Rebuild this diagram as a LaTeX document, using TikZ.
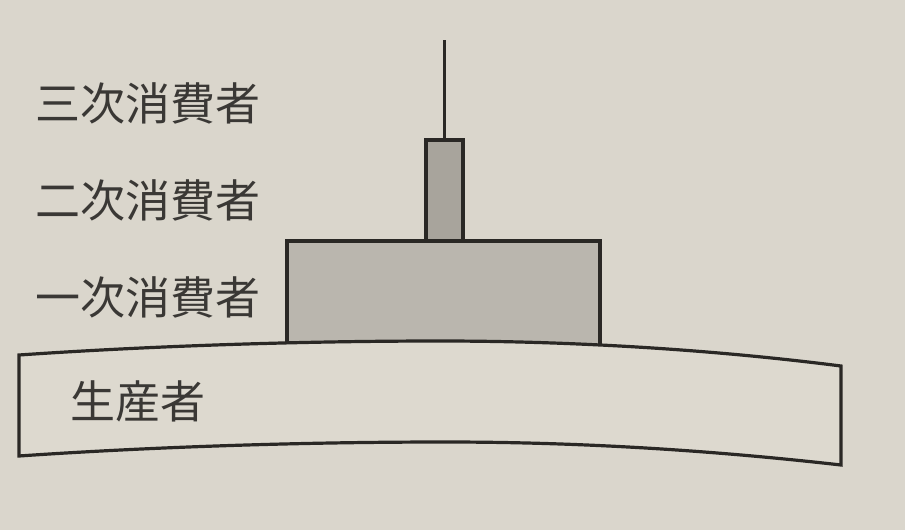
\documentclass[tikz,border=0pt]{standalone}
\usepackage{fontspec}
\newfontfamily\jpfont{Noto Sans CJK JP}
\definecolor{paper}{RGB}{218,214,204}
\definecolor{bandfill}{RGB}{221,217,207}
\definecolor{inkline}{RGB}{42,40,37}
\definecolor{inktext}{RGB}{58,56,53}
\definecolor{lightgray}{RGB}{186,182,174}
\definecolor{darkgray}{RGB}{168,164,156}
\tikzset{
  outl/.style={draw=inkline, line width=3.2pt, line join=miter},
  lbl/.style={font=\jpfont\fontsize{45}{45}\selectfont, text=inktext, inner sep=0pt, anchor=west}
}
\begin{document}
\begin{tikzpicture}[x=1pt,y=-1pt]
\fill[paper] (0,0) rectangle (905,530);
\useasboundingbox (0,0) rectangle (905,530);
% tertiary consumer line
\coordinate (ttop) at (444,40);
\coordinate (tbot) at (444,141);
\draw[draw=inkline, line width=3pt] (ttop) -- (tbot);
% secondary consumer box
\draw[outl, fill=darkgray] (426,140) rectangle (463,241);
% primary consumer box
\draw[outl, fill=lightgray] (287,241) rectangle (600,352);
% producer band
\draw[outl, fill=bandfill]
  (19,355) .. controls (150,346) and (300,341) .. (440,341)
  .. controls (560,341) and (700,348) .. (841,366)
  -- (841,465)
  .. controls (700,449) and (570,442) .. (445,442)
  .. controls (300,442) and (150,447) .. (19,456) -- cycle;
% labels
\node[lbl] (l3) at (35,103) {三次消費者};
\node[lbl] (l2) at (35,200) {二次消費者};
\node[lbl] (l1) at (35,297) {一次消費者};
\node[lbl] (l0) at (70,401) {生産者};
\end{tikzpicture}
\end{document}
